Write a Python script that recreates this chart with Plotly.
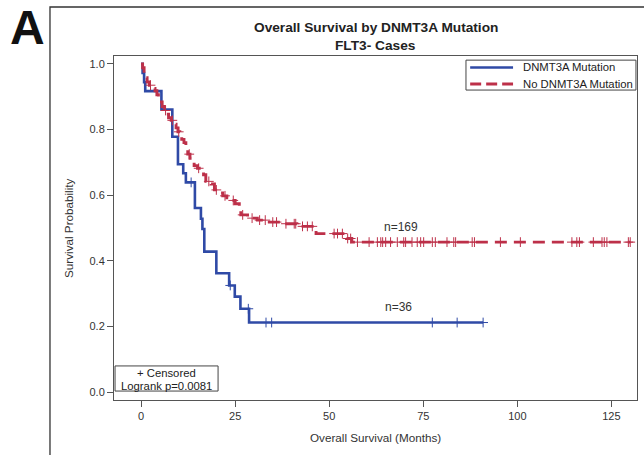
import numpy as np
import plotly.graph_objects as go

# Kaplan-Meier step curves (months, survival probability)
mut_times = [0, 0.4, 0.8, 1.1, 5.4, 8.3, 9.8, 11.2, 11.9, 14.3, 15.9, 16.3, 16.8,
             20.0, 23.4, 24.9, 26.4, 28.7]
mut_surv = [1.0, 0.972, 0.944, 0.917, 0.861, 0.778, 0.694, 0.667, 0.639, 0.561,
            0.528, 0.497, 0.428, 0.362, 0.325, 0.291, 0.254, 0.212]
mut_end = 90.9
mut_censored = [13.3, 23.7, 28.5, 33.2, 34.7, 77.4, 84.0, 90.9]

wt_times = [0, 0.4, 0.8, 1.2, 1.6, 2.2, 3.0, 3.7, 4.2, 4.6, 5.0, 5.6, 6.2, 6.8,
            7.3, 8.0, 8.8, 9.3, 9.8, 10.3, 10.8, 11.4, 11.9, 12.4, 13.0, 13.6,
            14.1, 15.0, 16.0, 16.6, 17.2, 18.6, 19.5, 20.5, 21.7, 22.8, 23.9,
            25.0, 26.1, 26.5, 28.3, 30.9, 33.5, 37.1, 41.4, 46.5, 54.6, 56.0]
wt_surv = [1.0, 0.988, 0.970, 0.958, 0.945, 0.935, 0.925, 0.918, 0.906, 0.894,
           0.884, 0.870, 0.858, 0.847, 0.836, 0.828, 0.816, 0.805, 0.793, 0.782,
           0.770, 0.760, 0.750, 0.725, 0.712, 0.700, 0.690, 0.682, 0.672, 0.662,
           0.642, 0.634, 0.616, 0.607, 0.598, 0.592, 0.584, 0.574, 0.562, 0.540,
           0.530, 0.524, 0.518, 0.513, 0.505, 0.483, 0.468, 0.457]
wt_end = 130.0
wt_censored = [2.5, 6.5, 8.3, 10.0, 12.8, 15.3, 18.0, 20.0, 22.3, 24.5, 27.0,
               29.5, 31.5, 33.0, 35.0, 36.0, 38.5, 40.7, 41.1, 42.9, 44.2, 45.5,
               51.3, 52.2, 53.5, 54.9, 55.7, 57.5, 60.6, 62.8, 63.7, 64.2, 65.0,
               66.3, 68.1, 69.8, 70.3, 72.0, 73.4, 74.3, 75.1, 77.4, 78.2, 81.3,
               83.1, 83.6, 88.0, 88.6, 95.5, 100.8, 114.5, 115.8, 116.5, 120.2,
               122.5, 123.1, 123.8, 129.5, 130.0]

group_names = ["DNMT3A Mutation", "No DNMT3A Mutation"]
x_ticks = [0, 25, 50, 75, 100, 125]
y_ticks = [0.0, 0.2, 0.4, 0.6, 0.8, 1.0]

BLUE = "#2f4aa6"
RED = "#bd3049"
RED_DASH = "12px,7px"
FONT = "Liberation Sans, Arial, sans-serif"


def step_value(times, surv, t):
    idx = np.searchsorted(np.asarray(times), t, side="right") - 1
    return surv[max(idx, 0)]


fig = go.Figure()

# survival curves
fig.add_trace(go.Scatter(
    x=mut_times + [mut_end], y=mut_surv + [mut_surv[-1]],
    mode="lines", line=dict(color=BLUE, width=2.6, shape="hv"),
    name=group_names[0], showlegend=False))
fig.add_trace(go.Scatter(
    x=wt_times + [wt_end], y=wt_surv + [wt_surv[-1]],
    mode="lines", line=dict(color=RED, width=2.9, shape="hv", dash=RED_DASH),
    name=group_names[1], showlegend=False))

# censoring marks
fig.add_trace(go.Scatter(
    x=mut_censored, y=[step_value(mut_times, mut_surv, t) for t in mut_censored],
    mode="markers", showlegend=False,
    marker=dict(symbol="cross-thin", size=7, line=dict(color=BLUE, width=1))))
fig.add_trace(go.Scatter(
    x=wt_censored, y=[step_value(wt_times, wt_surv, t) for t in wt_censored],
    mode="markers", showlegend=False,
    marker=dict(symbol="cross-thin", size=7, line=dict(color=RED, width=1))))

axis_common = dict(showgrid=False, zeroline=False, showline=True, mirror=True,
                   linecolor="#555555", linewidth=1, ticks="outside", ticklen=6,
                   tickcolor="#555555",
                   tickfont=dict(family=FONT, size=11, color="#333333"))

fig.update_xaxes(range=[-7.2, 131.8], tickvals=x_ticks,
                 ticktext=[str(v) for v in x_ticks], **axis_common)
fig.update_yaxes(range=[-0.024, 1.024], tickvals=y_ticks,
                 ticktext=[f"{v:.1f}" for v in y_ticks], **axis_common)

annotations = [
    dict(text="<b>A</b>", x=-0.166, y=1.083, xref="paper", yref="paper",
         showarrow=False, font=dict(family=FONT, size=48, color="#111111"),
         xanchor="center", yanchor="middle"),
    dict(text="<b>Overall Survival by DNMT3A Mutation</b>", x=0.5, y=1.083,
         xref="paper", yref="paper", showarrow=False,
         font=dict(family=FONT, size=13.7, color="#222222"),
         xanchor="center", yanchor="middle"),
    dict(text="<b>FLT3- Cases</b>", x=0.5, y=1.031, xref="paper", yref="paper",
         showarrow=False, font=dict(family=FONT, size=13.7, color="#222222"),
         xanchor="center", yanchor="middle"),
    dict(text="Overall Survival (Months)", x=0.5, y=-0.1076, xref="paper",
         yref="paper", showarrow=False,
         font=dict(family=FONT, size=11.7, color="#333333"),
         xanchor="center", yanchor="middle"),
    dict(text="Survival Probability", x=-0.088, y=0.5, xref="paper",
         yref="paper", showarrow=False, textangle=-90,
         font=dict(family=FONT, size=11.7, color="#333333"),
         xanchor="center", yanchor="middle"),
    dict(text="n=169", x=69.0, y=0.502, xref="x", yref="y", showarrow=False,
         font=dict(family=FONT, size=12, color="#333333"),
         xanchor="center", yanchor="middle"),
    dict(text="n=36", x=68.4, y=0.258, xref="x", yref="y", showarrow=False,
         font=dict(family=FONT, size=12, color="#333333"),
         xanchor="center", yanchor="middle"),
    dict(text="+ Censored", x=0.1, y=0.0785, xref="paper", yref="paper",
         showarrow=False, font=dict(family=FONT, size=11.3, color="#222222"),
         xanchor="center", yanchor="middle"),
    dict(text="Logrank p=0.0081", x=0.1, y=0.041, xref="paper", yref="paper",
         showarrow=False, font=dict(family=FONT, size=11.3, color="#222222"),
         xanchor="center", yanchor="middle"),
    # legend entries
    dict(text=group_names[0], x=0.778, y=0.9666, xref="paper", yref="paper",
         showarrow=False, font=dict(family=FONT, size=11.3, color="#222222"),
         xanchor="left", yanchor="middle"),
    dict(text=group_names[1], x=0.778, y=0.9186, xref="paper", yref="paper",
         showarrow=False, font=dict(family=FONT, size=11.3, color="#222222"),
         xanchor="left", yanchor="middle"),
]

shapes = [
    # outer panel frame
    dict(type="rect", xref="paper", yref="paper", x0=-0.1224, x1=1.02,
         y0=-0.2, y1=1.1424, line=dict(color="#333333", width=1.3)),
    # inset box for censoring / logrank note
    dict(type="rect", xref="paper", yref="paper", x0=0.002, x1=0.199,
         y0=0.026, y1=0.099, line=dict(color="#444444", width=1)),
    # legend box and line samples
    dict(type="rect", xref="paper", yref="paper", x0=0.673, x1=0.998,
         y0=0.901, y1=0.988, fillcolor="white",
         line=dict(color="#444444", width=1)),
    dict(type="line", xref="paper", yref="paper", x0=0.681, x1=0.763,
         y0=0.9666, y1=0.9666, line=dict(color=BLUE, width=2.6)),
    dict(type="line", xref="paper", yref="paper", x0=0.681, x1=0.763,
         y0=0.9186, y1=0.9186, line=dict(color=RED, width=2.9, dash="11px,5px")),
]

fig.update_layout(
    width=644, height=455,
    margin=dict(l=114, r=7, t=56, b=55),
    paper_bgcolor="white", plot_bgcolor="white",
    font=dict(family=FONT, size=11, color="#333333"),
    annotations=annotations, shapes=shapes,
    showlegend=False,
)

fig.write_html("out.html")
